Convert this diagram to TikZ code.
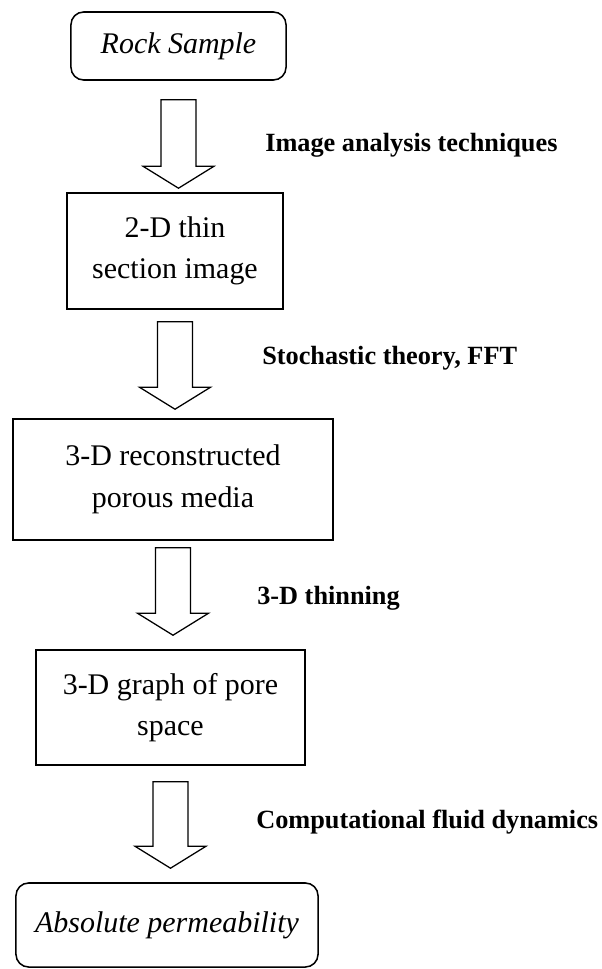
\documentclass[tikz,border=0pt]{standalone}
\usepackage{fontspec}
\setmainfont{Liberation Serif}
\usetikzlibrary{calc}

\newcommand{\boxfont}{\fontsize{21.3}{29.5}\selectfont}
\newcommand{\stagefont}{\fontsize{18.7}{22}\selectfont\bfseries}

\tikzset{
    box/.style={draw, line width=1.1pt, align=center, font=\boxfont, inner sep=0pt},
    roundbox/.style={box, rounded corners=9pt},
    stage/.style={font=\stagefont, anchor=west, inner sep=0pt},
    hollow/.style 2 args={line width=0.9pt, to path={
	let \p1=($(\tikztostart.south)+(0,#1)$), \p2=($(\tikztotarget.north)+(0,-#2)$) in
	(\x1-12.4pt,\y1) -- (\x1+12.4pt,\y1) -- (\x1+12.4pt,\y2+15.6pt)
	-- (\x1+25.2pt,\y2+15.6pt) -- (\x1,\y2) -- (\x1-25.2pt,\y2+15.6pt)
	-- (\x1-12.4pt,\y2+15.6pt) -- cycle}}
}

\begin{document}
\begin{tikzpicture}[x=0.025cm, y=-0.025cm]
    \useasboundingbox (0, 0) rectangle (602, 969);

    \node[roundbox, minimum width=5.375cm, minimum height=1.7cm] (rock)
	at (178.5, 46) {\itshape Rock Sample};
    \node[box, minimum width=5.4cm, minimum height=2.9cm] (thin)
	at (175, 251) {2-D thin\\section image};
    \node[box, minimum width=8cm, minimum height=3.025cm] (recon)
	at (173, 479.5) {3-D reconstructed\\porous media};
    \node[box, minimum width=6.725cm, minimum height=2.875cm] (graph)
	at (170.5, 707.5) {3-D graph of pore\\space};
    \node[roundbox, minimum width=7.55cm, minimum height=2.1cm] (perm)
	at (167, 925) {\itshape Absolute permeability};

    \draw[hollow={19}{4}] (rock) to (thin);
    \draw[hollow={12}{9}] (thin) to (recon);
    \draw[hollow={7}{14}] (recon) to (graph);
    \draw[hollow={16}{14}] (graph) to (perm);

    \node[stage] (img) at (265, 145) {Image analysis techniques};
    \node[stage] (stoch) at (262, 358) {Stochastic theory, FFT};
    \node[stage] (thinning) at (257, 598) {3-D thinning};
    \node[stage] (cfd) at (256, 822) {Computational fluid dynamics};
\end{tikzpicture}
\end{document}
